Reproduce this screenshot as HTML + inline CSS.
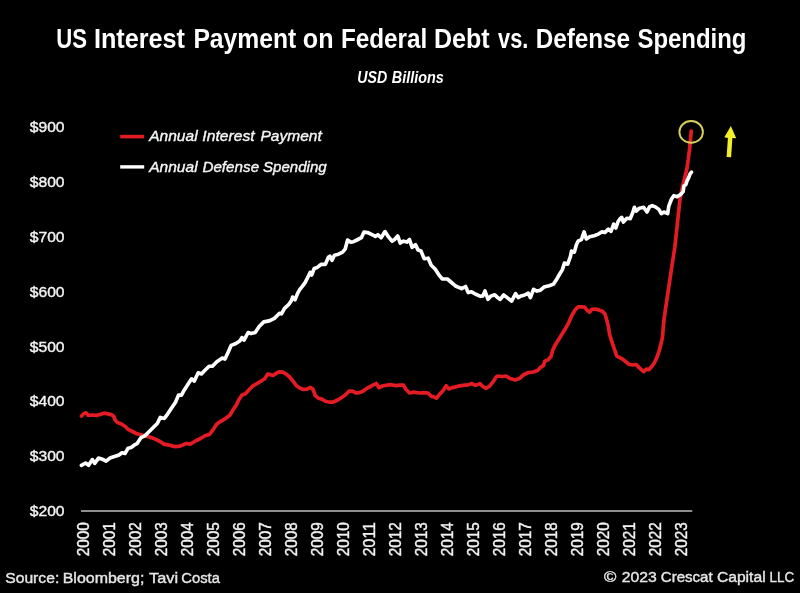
<!DOCTYPE html>
<html><head><meta charset="utf-8"><style>
html,body{margin:0;padding:0;background:#000;}
body{width:800px;height:593px;overflow:hidden;}
svg{display:block;will-change:transform;}
text{font-family:"Liberation Sans",Arial,sans-serif;fill:#fff;}
.t{font-weight:bold;font-size:27.0px;}
.st{font-weight:bold;font-style:italic;font-size:15.8px;}
.yl{font-size:15.4px;fill:#f2f2f2;stroke:#f2f2f2;stroke-width:0.4px;}
.xl{font-size:15.8px;fill:#f2f2f2;stroke:#f2f2f2;stroke-width:0.4px;}
.lg{font-style:italic;font-size:15.4px;fill:#f4f4f4;stroke:#f4f4f4;stroke-width:0.4px;}
.ft{font-size:15.3px;fill:#e6e6e6;stroke:#e6e6e6;stroke-width:0.4px;}
</style></head><body>
<svg width="800" height="593" viewBox="0 0 800 593">
<rect width="800" height="593" fill="#000"/>
<text x="56.27" y="47.8" class="t" textLength="30.81" lengthAdjust="spacingAndGlyphs">US</text>
<text x="93.97" y="47.8" class="t" textLength="91.05" lengthAdjust="spacingAndGlyphs">Interest</text>
<text x="193.4" y="47.8" class="t" textLength="102.87" lengthAdjust="spacingAndGlyphs">Payment</text>
<text x="302.82" y="47.8" class="t" textLength="30.7" lengthAdjust="spacingAndGlyphs">on</text>
<text x="340.93" y="47.8" class="t" textLength="86.28" lengthAdjust="spacingAndGlyphs">Federal</text>
<text x="433.98" y="47.8" class="t" textLength="55.66" lengthAdjust="spacingAndGlyphs">Debt</text>
<text x="498.1" y="47.8" class="t" textLength="30.24" lengthAdjust="spacingAndGlyphs">vs.</text>
<text x="535.68" y="47.8" class="t" textLength="94.44" lengthAdjust="spacingAndGlyphs">Defense</text>
<text x="637.44" y="47.8" class="t" textLength="109.01" lengthAdjust="spacingAndGlyphs">Spending</text>
<text x="357.35" y="82.6" class="st" textLength="29.97" lengthAdjust="spacingAndGlyphs">USD</text>
<text x="391.77" y="82.6" class="st" textLength="52.03" lengthAdjust="spacingAndGlyphs">Billions</text>
<text x="29.7" y="516.0" class="yl" textLength="34.9" lengthAdjust="spacingAndGlyphs">$200</text>
<text x="29.7" y="461.2" class="yl" textLength="34.9" lengthAdjust="spacingAndGlyphs">$300</text>
<text x="29.7" y="406.3" class="yl" textLength="34.9" lengthAdjust="spacingAndGlyphs">$400</text>
<text x="29.7" y="351.5" class="yl" textLength="34.9" lengthAdjust="spacingAndGlyphs">$500</text>
<text x="29.7" y="296.6" class="yl" textLength="34.9" lengthAdjust="spacingAndGlyphs">$600</text>
<text x="29.7" y="241.8" class="yl" textLength="34.9" lengthAdjust="spacingAndGlyphs">$700</text>
<text x="29.7" y="187.0" class="yl" textLength="34.9" lengthAdjust="spacingAndGlyphs">$800</text>
<text x="29.7" y="132.1" class="yl" textLength="34.9" lengthAdjust="spacingAndGlyphs">$900</text>

<line x1="81" y1="511" x2="692.3" y2="511" stroke="#bdbdbd" stroke-width="1.6"/>
<text transform="translate(88.6,556.3) rotate(-90)" class="xl" textLength="34.2" lengthAdjust="spacingAndGlyphs">2000</text>
<text transform="translate(114.6,556.3) rotate(-90)" class="xl" textLength="34.2" lengthAdjust="spacingAndGlyphs">2001</text>
<text transform="translate(140.6,556.3) rotate(-90)" class="xl" textLength="34.2" lengthAdjust="spacingAndGlyphs">2002</text>
<text transform="translate(166.6,556.3) rotate(-90)" class="xl" textLength="34.2" lengthAdjust="spacingAndGlyphs">2003</text>
<text transform="translate(192.6,556.3) rotate(-90)" class="xl" textLength="34.2" lengthAdjust="spacingAndGlyphs">2004</text>
<text transform="translate(218.6,556.3) rotate(-90)" class="xl" textLength="34.2" lengthAdjust="spacingAndGlyphs">2005</text>
<text transform="translate(244.6,556.3) rotate(-90)" class="xl" textLength="34.2" lengthAdjust="spacingAndGlyphs">2006</text>
<text transform="translate(270.6,556.3) rotate(-90)" class="xl" textLength="34.2" lengthAdjust="spacingAndGlyphs">2007</text>
<text transform="translate(296.6,556.3) rotate(-90)" class="xl" textLength="34.2" lengthAdjust="spacingAndGlyphs">2008</text>
<text transform="translate(322.6,556.3) rotate(-90)" class="xl" textLength="34.2" lengthAdjust="spacingAndGlyphs">2009</text>
<text transform="translate(348.6,556.3) rotate(-90)" class="xl" textLength="34.2" lengthAdjust="spacingAndGlyphs">2010</text>
<text transform="translate(374.6,556.3) rotate(-90)" class="xl" textLength="34.2" lengthAdjust="spacingAndGlyphs">2011</text>
<text transform="translate(400.6,556.3) rotate(-90)" class="xl" textLength="34.2" lengthAdjust="spacingAndGlyphs">2012</text>
<text transform="translate(426.6,556.3) rotate(-90)" class="xl" textLength="34.2" lengthAdjust="spacingAndGlyphs">2013</text>
<text transform="translate(452.6,556.3) rotate(-90)" class="xl" textLength="34.2" lengthAdjust="spacingAndGlyphs">2014</text>
<text transform="translate(478.6,556.3) rotate(-90)" class="xl" textLength="34.2" lengthAdjust="spacingAndGlyphs">2015</text>
<text transform="translate(504.6,556.3) rotate(-90)" class="xl" textLength="34.2" lengthAdjust="spacingAndGlyphs">2016</text>
<text transform="translate(530.6,556.3) rotate(-90)" class="xl" textLength="34.2" lengthAdjust="spacingAndGlyphs">2017</text>
<text transform="translate(556.6,556.3) rotate(-90)" class="xl" textLength="34.2" lengthAdjust="spacingAndGlyphs">2018</text>
<text transform="translate(582.6,556.3) rotate(-90)" class="xl" textLength="34.2" lengthAdjust="spacingAndGlyphs">2019</text>
<text transform="translate(608.6,556.3) rotate(-90)" class="xl" textLength="34.2" lengthAdjust="spacingAndGlyphs">2020</text>
<text transform="translate(634.6,556.3) rotate(-90)" class="xl" textLength="34.2" lengthAdjust="spacingAndGlyphs">2021</text>
<text transform="translate(660.6,556.3) rotate(-90)" class="xl" textLength="34.2" lengthAdjust="spacingAndGlyphs">2022</text>
<text transform="translate(686.6,556.3) rotate(-90)" class="xl" textLength="34.2" lengthAdjust="spacingAndGlyphs">2023</text>

<line x1="120.2" y1="136.6" x2="144.2" y2="136.6" stroke="#e31b23" stroke-width="3.6"/>
<text x="149.26" y="141.3" class="lg" textLength="48.34" lengthAdjust="spacingAndGlyphs">Annual</text>
<text x="202.39" y="141.3" class="lg" textLength="52.35" lengthAdjust="spacingAndGlyphs">Interest</text>
<text x="260.5" y="141.3" class="lg" textLength="61.27" lengthAdjust="spacingAndGlyphs">Payment</text>
<line x1="120.2" y1="166.9" x2="144.2" y2="166.9" stroke="#ffffff" stroke-width="3.4"/>
<text x="149.26" y="171.6" class="lg" textLength="48.34" lengthAdjust="spacingAndGlyphs">Annual</text>
<text x="202.41" y="171.6" class="lg" textLength="56.69" lengthAdjust="spacingAndGlyphs">Defense</text>
<text x="263.01" y="171.6" class="lg" textLength="63.67" lengthAdjust="spacingAndGlyphs">Spending</text>
<polyline points="81.5,416.1 83.4,413.9 86.0,412.8 88.3,415.4 92.0,415.0 96.5,415.4 101.0,414.3 104.0,413.1 107.8,413.9 111.5,414.6 113.8,416.5 115.3,420.3 117.5,422.5 121.3,424.0 125.0,426.3 128.0,429.3 132.5,431.5 137.0,433.8 141.1,434.8 148.2,436.6 155.2,439.1 160.0,441.5 164.0,444.1 169.1,445.1 175.2,446.6 180.2,446.1 186.3,443.5 190.3,444.1 195.4,441.0 200.5,438.5 205.5,435.5 209.6,434.4 212.6,430.4 216.6,424.3 220.7,421.3 225.7,418.3 229.8,415.2 232.8,410.2 236.9,404.1 238.5,400.2 242.0,395.0 245.5,393.7 249.0,389.7 252.5,386.2 256.9,383.6 261.2,381.0 264.7,378.8 267.8,374.0 270.9,374.9 273.5,375.3 277.0,372.7 279.6,371.8 283.1,372.2 286.6,374.4 290.1,377.5 293.6,381.9 296.2,385.4 299.7,388.0 303.5,389.5 307.0,389.1 310.5,387.3 313.1,389.5 315.3,395.6 318.4,398.2 321.9,399.1 325.4,401.3 329.7,402.2 333.2,402.2 337.6,400.0 342.0,397.4 345.5,394.7 349.0,391.2 352.5,391.2 356.0,393.0 359.5,392.6 363.0,391.2 366.5,388.6 372.9,385.1 376.4,383.4 379.0,387.7 382.5,386.0 386.9,385.1 391.2,384.7 395.6,385.6 400.0,385.1 403.5,385.1 406.1,389.5 409.6,393.0 414.0,392.1 419.2,393.0 424.5,392.6 428.0,393.0 431.5,396.5 433.5,396.7 436.6,398.1 439.6,394.1 443.1,390.6 446.2,385.8 448.8,388.9 452.7,387.6 458.0,386.2 463.2,385.4 467.6,384.9 472.0,383.6 475.5,385.4 479.9,383.6 482.5,386.2 486.0,388.4 489.5,386.2 493.0,381.9 496.5,376.6 498.0,376.0 502.1,376.5 506.1,376.0 510.2,378.6 515.2,380.1 519.3,378.6 523.3,375.0 528.4,372.5 533.4,372.0 537.5,370.5 540.5,367.4 543.6,365.4 544.6,361.4 548.6,359.3 551.1,356.3 552.7,350.2 555.7,344.2 560.2,337.0 564.6,330.0 568.1,323.9 571.6,316.0 575.1,309.9 578.2,306.8 581.2,306.8 584.7,307.2 587.4,310.7 589.6,312.1 591.7,309.4 595.2,309.0 598.7,309.9 602.2,311.2 604.9,313.8 606.6,319.5 608.4,326.5 609.6,334.5 611.8,341.5 614.0,348.0 616.8,356.1 620.2,357.8 622.7,359.1 626.1,362.0 629.4,364.5 632.8,365.0 636.2,364.5 638.7,367.1 642.1,370.4 643.8,371.7 646.3,369.2 648.8,369.6 651.3,367.1 653.9,363.7 656.4,358.6 658.9,351.9 660.6,345.2 662.3,338.4 664.2,318.0 667.7,294.3 671.2,270.8 674.8,247.2 676.5,232.0 678.3,215.0 679.9,199.9 681.2,192.5 683.1,184.1 685.0,176.7 686.8,169.3 688.2,160.0 689.7,148.0 691.2,131.0" fill="none" stroke="#e31b23" stroke-width="3.7" stroke-linejoin="round" stroke-linecap="round"/>
<polyline points="81.4,465.3 85.6,463.0 88.6,465.3 92.4,459.6 94.7,463.4 98.5,458.1 102.3,459.2 106.1,461.1 109.9,458.1 114.4,456.6 119.0,455.0 122.0,452.8 125.0,453.5 128.1,448.2 131.1,447.5 134.1,445.2 137.0,443.7 141.1,437.6 145.1,435.6 149.2,431.5 154.2,426.5 157.3,423.5 160.3,417.4 164.3,418.4 167.4,414.3 171.4,408.3 175.5,402.2 178.5,395.1 181.5,395.1 183.6,391.1 185.6,388.0 188.3,383.7 191.6,378.8 194.3,381.0 198.2,372.8 201.5,373.9 204.7,370.6 209.1,366.2 212.4,366.2 216.8,361.8 222.3,358.0 225.0,359.1 227.8,353.0 231.1,345.4 235.5,343.7 239.8,341.0 242.0,337.6 244.0,340.1 248.1,332.6 251.1,333.6 255.2,332.6 259.2,326.5 263.8,321.9 269.3,320.9 274.4,318.4 279.5,313.3 281.5,313.8 284.5,308.3 288.6,304.7 291.6,300.2 292.6,297.1 295.1,299.7 297.7,293.1 299.7,289.6 302.1,286.6 305.1,282.6 308.2,276.5 310.2,272.4 311.7,275.0 314.2,268.4 317.3,267.4 321.3,264.3 325.4,264.3 328.4,257.3 329.9,256.2 331.9,260.3 334.5,255.2 338.5,254.2 342.6,252.2 345.1,249.2 347.6,240.1 350.7,242.1 353.5,241.7 357.9,239.5 361.4,237.7 364.0,232.1 367.5,232.5 371.0,234.2 375.4,236.4 378.0,234.7 381.1,237.7 385.0,231.6 388.5,236.9 392.0,241.2 394.6,239.5 397.7,236.0 400.3,243.0 403.4,241.2 406.9,242.1 409.5,239.5 412.1,247.4 415.5,244.6 418.1,250.1 421.1,251.1 424.1,258.7 428.2,258.2 431.2,265.3 435.3,269.3 439.3,275.4 442.4,279.0 447.4,279.0 451.5,282.5 455.5,286.0 461.6,288.6 465.6,286.5 468.2,292.6 471.5,291.8 475.3,294.0 480.5,296.3 482.8,295.9 485.0,291.0 488.0,299.3 491.0,295.9 494.8,294.8 497.6,297.6 500.2,299.4 503.7,295.0 507.2,297.6 511.6,301.1 515.6,293.7 518.2,297.6 521.2,295.9 524.7,295.0 528.2,293.2 530.4,297.6 533.5,289.3 537.0,291.1 540.5,290.2 544.0,287.1 549.2,285.8 553.6,284.1 556.2,280.1 559.7,274.0 562.4,269.6 564.4,263.1 567.7,264.2 570.4,256.6 571.5,251.1 574.3,252.2 576.5,244.5 578.1,241.2 581.4,239.6 584.1,231.9 586.3,239.0 589.6,236.8 594.0,235.7 598.4,234.1 601.7,231.9 605.0,232.4 608.3,229.1 611.0,231.3 613.7,224.2 615.9,228.0 618.1,221.5 620.1,218.7 621.7,217.4 623.4,222.1 626.8,218.3 630.2,218.7 632.7,212.8 634.4,207.3 636.1,211.1 639.4,208.2 643.6,207.3 647.0,212.0 649.5,206.9 652.1,205.6 655.4,206.9 658.8,209.4 661.3,213.6 663.9,212.0 667.7,213.6 668.7,206.4 671.5,199.0 673.8,195.7 677.1,196.7 680.8,194.4 683.1,191.6 684.0,186.0 685.9,184.6 686.8,181.4 688.7,177.6 690.1,173.9 691.5,172.1" fill="none" stroke="#ffffff" stroke-width="3.65" stroke-linejoin="round" stroke-linecap="round"/>
<ellipse cx="691.15" cy="131.9" rx="11.75" ry="10.9" fill="none" stroke="#d8cf58" stroke-width="1.9"/>
<path d="M726.6,156.9 L727.9,137.9 L724.3,137.3 L730.9,126.0 L736.2,138.3 L732.4,138.1 L731.1,157.2 Z" fill="#f3ee2a"/>
<text x="5.23" y="583.2" class="ft" textLength="54.02" lengthAdjust="spacingAndGlyphs">Source:</text>
<text x="62.69" y="583.2" class="ft" textLength="81.69" lengthAdjust="spacingAndGlyphs">Bloomberg;</text>
<text x="149.13" y="583.2" class="ft" textLength="28.98" lengthAdjust="spacingAndGlyphs">Tavi</text>
<text x="181.28" y="583.2" class="ft" textLength="38.59" lengthAdjust="spacingAndGlyphs">Costa</text>
<text x="603.93" y="582.4" class="ft" textLength="12.37" lengthAdjust="spacingAndGlyphs">©</text>
<text x="621.73" y="582.4" class="ft" textLength="35.08" lengthAdjust="spacingAndGlyphs">2023</text>
<text x="660.76" y="582.4" class="ft" textLength="51.94" lengthAdjust="spacingAndGlyphs">Crescat</text>
<text x="716.93" y="582.4" class="ft" textLength="48.71" lengthAdjust="spacingAndGlyphs">Capital</text>
<text x="769.5" y="582.4" class="ft" textLength="24.59" lengthAdjust="spacingAndGlyphs">LLC</text>
</svg>
</body></html>
